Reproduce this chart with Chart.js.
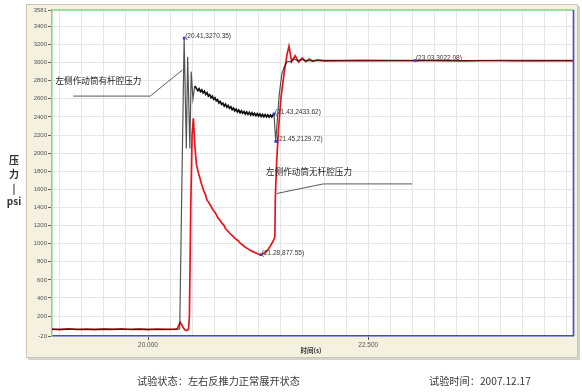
<!DOCTYPE html>
<html>
<head>
<meta charset="utf-8">
<script src="https://cdn.jsdelivr.net/npm/chart.js@4/dist/chart.umd.min.js"></script>
<style>
  html, body { margin: 0; padding: 0; background: #ffffff; }
  #wrap { width: 582px; height: 392px; position: relative; }
</style>
</head>
<body>
<div id="wrap"><canvas id="c" width="582" height="392"></canvas></div>
<script>
// ---------------- DATA ----------------
const seriesNames = ['左侧作动筒有杆腔压力', '左侧作动筒无杆腔压力'];

// 有杆腔 (black) : time (s)
const rodTime = [
  18.91, 19.10, 19.30, 19.50, 19.70, 19.90, 20.10, 20.30, 20.36,
  20.385, 20.41, 20.435, 20.45, 20.475, 20.49, 20.51, 20.53,
  20.550, 20.565, 20.580, 20.595, 20.610, 20.625, 20.640, 20.655, 20.670, 20.685,
  20.700, 20.715, 20.730, 20.745, 20.760, 20.775, 20.790, 20.805, 20.820, 20.835,
  20.850, 20.865, 20.880, 20.895, 20.910, 20.925, 20.940, 20.955, 20.970, 20.985,
  21.000, 21.015, 21.030, 21.045, 21.060, 21.075, 21.090, 21.105, 21.120, 21.135,
  21.150, 21.165, 21.180, 21.195, 21.210, 21.225, 21.240, 21.255, 21.270, 21.285,
  21.300, 21.315, 21.330, 21.345, 21.360, 21.375, 21.390, 21.405, 21.420, 21.43,
  21.45, 21.47, 21.49, 21.52, 21.55, 21.58, 21.62, 21.66, 21.70, 21.75, 21.80,
  22.00, 22.40, 22.80, 23.03, 23.40, 23.80, 24.20, 24.60, 24.83
];
// 有杆腔 (black) : pressure (psi)
const rodPressure = [
  54, 57, 53, 56, 54, 57, 53, 55, 58,
  1700, 3270.35, 2050, 3065, 2050, 2900, 2600, 2740,
  2715, 2690, 2712, 2680, 2698, 2665, 2685, 2650, 2668, 2630,
  2645, 2612, 2630, 2595, 2612, 2578, 2590, 2555, 2570, 2538,
  2552, 2520, 2540, 2508, 2525, 2495, 2512, 2480, 2498, 2466,
  2485, 2455, 2475, 2446, 2466, 2440, 2460, 2432, 2455, 2428,
  2450, 2422, 2446, 2420, 2440, 2414, 2436, 2410, 2432, 2405,
  2428, 2402, 2425, 2400, 2422, 2398, 2420, 2400, 2425, 2433.62,
  2129.72, 2400, 2650, 2880, 2960, 3010, 3010, 3040, 3020, 3035, 3020,
  3024, 3020, 3023, 3022.08, 3021, 3023, 3020, 3022, 3021
];

// 无杆腔 (red) : time (s)
const capTime = [
  18.91, 19.00, 19.10, 19.20, 19.30, 19.40, 19.50, 19.60, 19.70, 19.80, 19.90, 20.00, 20.10, 20.20, 20.33,
  20.35, 20.365, 20.38, 20.40, 20.42, 20.44, 20.46, 20.47, 20.485, 20.50, 20.515, 20.53,
  20.55, 20.57, 20.59, 20.61, 20.63, 20.65, 20.67, 20.69, 20.71, 20.74, 20.765, 20.79, 20.815, 20.84,
  20.86, 20.88, 20.905, 20.93, 20.96, 20.99, 21.02, 21.05, 21.075, 21.10, 21.13, 21.16, 21.19, 21.22,
  21.25, 21.28, 21.305, 21.33, 21.35, 21.37, 21.39, 21.41, 21.425, 21.44,
  21.445, 21.46, 21.48, 21.51, 21.55, 21.58, 21.60, 21.63, 21.67, 21.71, 21.75, 21.79, 21.83, 21.87, 21.92,
  22.00, 22.40, 22.80, 23.20, 23.60, 24.00, 24.40, 24.83
];
// 无杆腔 (red) : pressure (psi)
const capPressure = [
  55, 50, 58, 52, 57, 51, 56, 53, 58, 52, 56, 51, 57, 53, 55,
  100, 130, 110, 70, 45, 40, 55, 200, 1400, 2200, 2385, 2100,
  1870, 1790, 1720, 1650, 1590, 1545, 1480, 1455, 1420, 1370, 1340, 1290, 1260, 1223,
  1205, 1165, 1140, 1112, 1085, 1055, 1035, 1002, 985, 962, 945, 927, 912, 900,
  885, 877.55, 888, 905, 920, 946, 975, 1010, 1040, 1075,
  1500, 1900, 2250, 2620, 2920, 3100, 3180, 3010, 3075, 3005, 3050, 3010, 3040, 3015, 3030,
  3020, 3024, 3021, 3023, 3020, 3023, 3021, 3022
];

// annotated points (time, pressure)
const markTime     = [20.41, 21.43, 21.45, 21.28, 23.03];
const markPressure = [3270.35, 2433.62, 2129.72, 877.55, 3022.08];

// axis ticks
const yTickValues = [-20, 200, 400, 600, 800, 1000, 1200, 1400, 1600, 1800, 2000, 2200, 2400, 2600, 2800, 3000, 3200, 3400, 3581];
const xTickLabels = [20.0, 22.5];
const xGridStep = 0.25;
const xMin = 18.91, xMax = 24.83;

// time span where the rod-chamber trace stands alone (drawn solid black)
const rodSoloSpan = [20.53, 21.44];

// series label anchors (data coordinates)
const label1Pos = { x: 18.95, y: 2800 };
const label1Line = [[19.15, 2630], [20.025, 2630], [20.39, 2918]];
const label2Pos = { x: 21.34, y: 1790 };
const label2Line = [[23.0, 1660], [21.99, 1660], [21.46, 1554]];

const yTitle = ['压', '力', '|', 'psi'];
const xTitle = '时间(s)';
const footLeft = '试验状态：左右反推力正常展开状态';
const footRight = '试验时间：2007.12.17';

// ---------------- BUILD ----------------
const toPts = (xs, ys) => xs.map((x, i) => ({ x: x, y: ys[i] }));

const CJK = '"Noto Sans CJK SC", "Noto Sans", sans-serif';
const inSolo = c => c.p0.parsed.x >= rodSoloSpan[0] && c.p1.parsed.x <= rodSoloSpan[1];

const decorPlugin = {
  id: 'decor',
  beforeDraw(chart) {
    const ctx = chart.ctx;
    const a = chart.chartArea;
    ctx.save();
    ctx.fillStyle = '#ffffff';
    ctx.fillRect(0, 0, chart.width, chart.height);
    ctx.fillStyle = '#d4d2c8';
    ctx.fillRect(28, 6, 552, 354);
    ctx.fillStyle = '#f4f1e1';
    ctx.fillRect(26, 4, 552, 354);
    ctx.strokeStyle = '#c9c6b8';
    ctx.lineWidth = 1;
    ctx.strokeRect(26.5, 4.5, 551, 353);
    ctx.fillStyle = '#ffffff';
    ctx.fillRect(a.left, a.top, a.right - a.left, a.bottom - a.top);
    ctx.restore();
  },
  afterDatasetsDraw(chart) {
    const ctx = chart.ctx;
    const a = chart.chartArea;
    const xs = chart.scales.x, ys = chart.scales.y;
    const px = v => xs.getPixelForValue(v), py = v => ys.getPixelForValue(v);
    ctx.save();
    ctx.lineWidth = 1.6;
    ctx.strokeStyle = '#86d486';
    ctx.beginPath(); ctx.moveTo(a.left, a.top); ctx.lineTo(a.right, a.top); ctx.stroke();
    ctx.strokeStyle = '#4848d8';
    ctx.beginPath(); ctx.moveTo(a.right, a.top); ctx.lineTo(a.right, a.bottom); ctx.stroke();

    ctx.fillStyle = '#333333';
    ctx.font = '6.5px "Liberation Sans", sans-serif';
    ctx.textBaseline = 'middle';
    ctx.textAlign = 'left';
    markTime.forEach((t, i) => {
      const p = markPressure[i];
      const txt = '(' + t.toFixed(2) + ',' + p.toFixed(2) + ')';
      ctx.fillText(txt, px(t) + 1, py(p) - 2);
    });

    ctx.strokeStyle = '#5a5a5a';
    ctx.lineWidth = 1;
    [label1Line, label2Line].forEach(line => {
      ctx.beginPath();
      line.forEach((pt, i) => {
        const X = px(pt[0]), Y = py(pt[1]);
        if (i === 0) ctx.moveTo(X, Y); else ctx.lineTo(X, Y);
      });
      ctx.stroke();
    });
    ctx.fillStyle = '#222222';
    ctx.font = '8.6px ' + CJK;
    ctx.fillText(seriesNames[0], px(label1Pos.x), py(label1Pos.y));
    ctx.fillText(seriesNames[1], px(label2Pos.x), py(label2Pos.y));
    ctx.restore();
  },
  afterDraw(chart) {
    const ctx = chart.ctx;
    ctx.save();
    ctx.textAlign = 'center';
    ctx.textBaseline = 'middle';
    ctx.fillStyle = '#333333';
    ctx.font = 'bold 10px ' + CJK;
    const yPos = [160, 174, 188, 201];
    yTitle.forEach((s, i) => ctx.fillText(s, 14, yPos[i]));
    ctx.font = 'bold 6.5px ' + CJK;
    ctx.fillText(xTitle, 311, 351);
    ctx.font = '10.2px ' + CJK;
    ctx.fillStyle = '#3a3a3a';
    ctx.textAlign = 'left';
    ctx.fillText(footLeft, 137, 381);
    ctx.fillText(footRight, 429, 381);
    ctx.restore();
  }
};

const chart = new Chart(document.getElementById('c'), {
  type: 'scatter',
  data: {
    datasets: [
      {
        label: 'marks',
        data: toPts(markTime, markPressure),
        showLine: false,
        pointStyle: 'rect',
        pointRadius: 1.8,
        backgroundColor: '#3a3ad0',
        borderColor: '#3a3ad0',
        borderWidth: 0
      },
      {
        label: seriesNames[0],
        data: toPts(rodTime, rodPressure),
        showLine: true,
        borderColor: 'rgba(20,20,20,0.72)',
        borderWidth: 1.2,
        pointRadius: 0,
        tension: 0,
        segment: {
          borderColor: c => inSolo(c) ? '#101010' : undefined,
          borderWidth: c => inSolo(c) ? 1.7 : undefined
        }
      },
      {
        label: seriesNames[1],
        data: toPts(capTime, capPressure),
        showLine: true,
        borderColor: '#e8141c',
        borderWidth: 1.7,
        pointRadius: 0,
        tension: 0
      }
    ]
  },
  options: {
    responsive: false,
    animation: false,
    devicePixelRatio: 1,
    layout: { padding: { left: 26, top: 10, right: 8.5, bottom: 36 } },
    plugins: {
      legend: { display: false },
      tooltip: { enabled: false }
    },
    scales: {
      x: {
        type: 'linear',
        min: xMin,
        max: xMax,
        afterFit: s => { s.height = 20; },
        afterBuildTicks: s => {
          const t = [];
          for (let v = 19.0; v <= xMax + 1e-9; v += xGridStep) t.push({ value: Math.round(v * 100) / 100 });
          s.ticks = t;
        },
        ticks: {
          autoSkip: false,
          maxRotation: 0,
          padding: 1,
          color: '#555555',
          font: { size: 6.5, family: '"Liberation Sans", sans-serif' },
          callback: v => xTickLabels.some(l => Math.abs(l - v) < 1e-6) ? v.toFixed(3) : ''
        },
        grid: {
          color: '#e6e6e6',
          lineWidth: 1,
          tickLength: 4,
          tickColor: c => (c.tick && xTickLabels.some(l => Math.abs(l - c.tick.value) < 1e-6)) ? '#555555' : 'rgba(0,0,0,0)'
        },
        border: { color: '#4848d8', width: 1.6 }
      },
      y: {
        type: 'linear',
        min: -20,
        max: 3581,
        afterFit: s => { s.width = 26; },
        afterBuildTicks: s => { s.ticks = yTickValues.map(v => ({ value: v })); },
        ticks: {
          autoSkip: false,
          padding: 1,
          color: '#555555',
          font: { size: 6, family: '"Liberation Sans", sans-serif' },
          callback: v => String(v)
        },
        grid: {
          color: '#e6e6e6',
          lineWidth: 1,
          tickLength: 4,
          tickColor: '#666666'
        },
        border: { color: '#86d486', width: 1.6 }
      }
    }
  },
  plugins: [decorPlugin]
});
</script>
</body>
</html>
